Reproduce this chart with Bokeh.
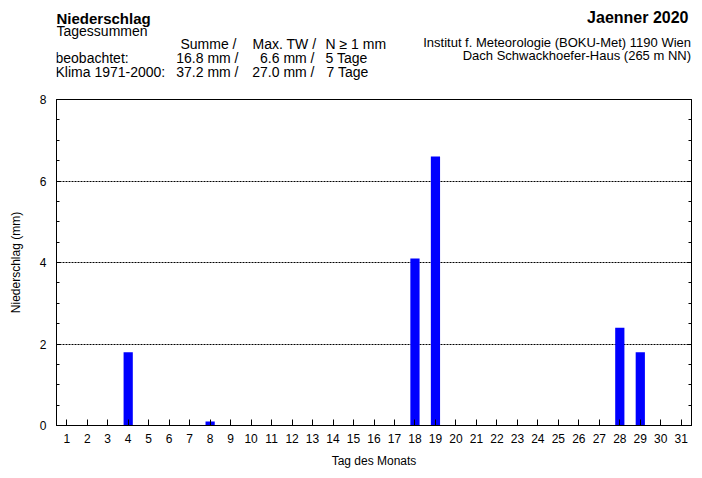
from bokeh.plotting import figure
from bokeh.layouts import column
from bokeh.models import (Range1d, LinearAxis, FixedTicker, SingleIntervalTicker,
                          ColumnDataSource)
from bokeh.core.properties import value
from bokeh.embed import file_html
from bokeh.resources import INLINE

# ---- data ----
days = list(range(1, 32))
precip = [0, 0, 0, 1.8, 0, 0, 0, 0.1, 0, 0,
          0, 0, 0, 0, 0, 0, 0, 4.1, 6.6, 0,
          0, 0, 0, 0, 0, 0, 0, 2.4, 1.8, 0, 0]
day_labels = [str(d) for d in days]
grid_ticks = [2, 4, 6]

title_left = "Niederschlag"
subtitle_left = "Tagessummen"
title_right = "Jaenner 2020"
inst_lines = ["Institut f. Meteorologie (BOKU-Met) 1190 Wien",
              "Dach Schwackhoefer-Haus (265 m NN)"]
row_labels = ["beobachtet:", "Klima 1971-2000:"]
col_head = ["Summe", "/", "Max. TW /", "N \u2265 1 mm"]
summe_vals = ["16.8 mm /", "37.2 mm /"]
maxtw_vals = ["6.6 mm /", "27.0 mm /"]
days_vals = ["5 Tage", "7 Tage"]

# ---- layout (pixel positions of header texts; baseline y from top) ----
FONT = "Liberation Sans"
W, H = 702, 478
HH = 91                      # header strip height
FL, FR = 56, 691             # frame left / right
DY = -5                      # baseline correction
Y_T1, Y_T2 = 23.3, 35
Y_R = [48.7, 62.7, 76]
Y_I = [46.7, 59.5]

# ---------------- header figure ----------------
hdr = figure(width=W, height=HH, output_backend="svg", toolbar_location=None,
             x_range=Range1d(FL, FR), y_range=Range1d(HH, 0),
             min_border_left=FL, min_border_right=W - FR,
             min_border_top=0, min_border_bottom=0, outline_line_color=None)
hdr.axis.visible = False
hdr.grid.visible = False
hdr.background_fill_color = "white"
hdr.border_fill_color = "white"

kw = dict(text_font=value(FONT), text_baseline="alphabetic", text_color="black")
# left-aligned 14px texts
lx = [56, 180, 252, 325, 55, 325, 55, 326]
ly = [Y_T2, Y_R[0], Y_R[0], Y_R[0], Y_R[1], Y_R[1], Y_R[2], Y_R[2]]
lt = [subtitle_left, col_head[0], col_head[2], col_head[3],
      row_labels[0], days_vals[0], row_labels[1], days_vals[1]]
hdr.text(x=lx, y=[v + DY for v in ly], text=lt, text_font_size="14px",
         text_align="left", **kw)
# right-aligned 14px texts (slash columns)
rx = [236, 238, 238, 314, 314]
ry = [Y_R[0], Y_R[1], Y_R[2], Y_R[1], Y_R[2]]
rt = [col_head[1], summe_vals[0], summe_vals[1], maxtw_vals[0], maxtw_vals[1]]
hdr.text(x=rx, y=[v + DY for v in ry], text=rt, text_font_size="14px",
         text_align="right", **kw)
# titles
hdr.text(x=[56], y=[Y_T1 + DY], text=[title_left], text_font_size="15px",
         text_font_style="bold", text_align="left", **kw)
hdr.text(x=[688], y=[21.7 + DY], text=[title_right], text_font_size="16px",
         text_font_style="bold", text_align="right", **kw)
hdr.text(x=[690.5, 690.5], y=[v + DY for v in Y_I], text=inst_lines,
         text_font_size="13px", text_align="right", **kw)

# ---------------- main chart ----------------
src = ColumnDataSource(data=dict(day=days, precip=precip))

p = figure(width=W, height=H - HH, output_backend="svg", toolbar_location=None,
           x_range=Range1d(0.5, 31.5), y_range=Range1d(0, 8),
           min_border_left=FL, min_border_right=W - FR, min_border_top=99 - HH,
           min_border_bottom=53, x_axis_label="Tag des Monats",
           y_axis_label="Niederschlag (mm)")
p.background_fill_color = "white"
p.border_fill_color = "white"
p.outline_line_color = "black"
p.outline_line_width = 1

p.vbar(x="day", top="precip", width=0.45, source=src,
       fill_color="#0000ff", line_color=None)

# x axis
xa = p.xaxis[0]
xa.ticker = FixedTicker(ticks=days)
xa.major_label_overrides = {d: l for d, l in zip(days, day_labels)}
xa.major_tick_in = 6
xa.major_tick_out = 0
xa.minor_tick_line_color = None
xa.major_label_standoff = 8
xa.axis_label_standoff = 8
xa.axis_line_color = "black"
xa.major_tick_line_color = "black"

# y axis
ya = p.yaxis[0]
ya.ticker = SingleIntervalTicker(interval=2, num_minor_ticks=4)
ya.major_tick_in = 4
ya.major_tick_out = 0
ya.minor_tick_in = 3
ya.minor_tick_out = 0
ya.major_label_standoff = 10
ya.axis_label_standoff = 14

for ax in (xa, ya):
    ax.major_label_text_font = FONT
    ax.major_label_text_font_size = "12px"
    ax.axis_label_text_font = FONT
    ax.axis_label_text_font_size = "12px"
    ax.axis_label_text_font_style = "normal"
    ax.major_label_text_color = "black"
    ax.axis_label_text_color = "black"

# right axis with inward ticks
ra = LinearAxis(ticker=SingleIntervalTicker(interval=2, num_minor_ticks=4))
ra.major_tick_in = 4
ra.major_tick_out = 0
ra.minor_tick_in = 3
ra.minor_tick_out = 0
ra.major_label_text_color = None
ra.major_label_text_font_size = "1px"
ra.major_label_standoff = 0
ra.axis_line_color = "black"
p.add_layout(ra, "right")

# grid
p.xgrid.visible = False
p.ygrid.ticker = FixedTicker(ticks=grid_ticks)
p.ygrid.grid_line_color = "black"
p.ygrid.grid_line_dash = "2 1"
p.ygrid.grid_line_width = 1

layout = column(hdr, p, spacing=0)
open("out.html", "w").write(file_html(layout, INLINE))
